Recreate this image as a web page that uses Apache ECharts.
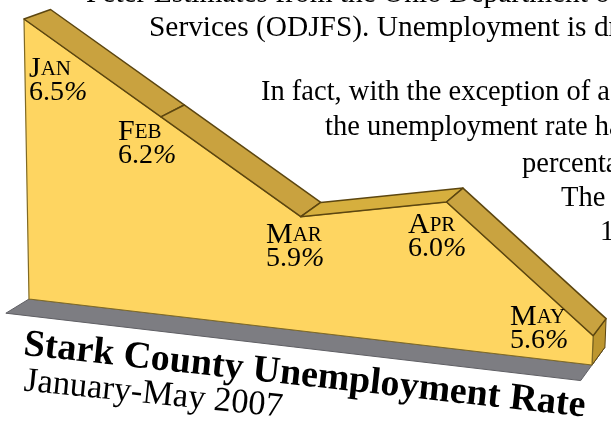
<!DOCTYPE html>
<html lang="en">
<head>
    <meta charset="UTF-8">
    <title>Stark County Unemployment Rate</title>
    <style>
        html, body { margin: 0; padding: 0; background: #fff; }
        #main { width: 611px; height: 421px; }
    </style>
    <script src="https://cdn.jsdelivr.net/npm/echarts@6/dist/echarts.min.js"></script>
</head>
<body>
<div id="main"></div>
<script type="text/javascript">
    // values
    var months = ['Jan', 'Feb', 'Mar', 'Apr', 'May'];
    var rates = [6.5, 6.2, 5.9, 6.0, 5.6];
    var titleText = 'Stark County Unemployment Rate';
    var subtitleText = 'January-May 2007';
    var storyLines = [
        'Peter Estimates from the Ohio Department of',
        'Services (ODJFS). Unemployment is dropping',
        'In fact, with the exception of a',
        'the unemployment rate has',
        'percentage',
        'The',
        '1'
    ];

    var serif = '"Liberation Serif", "Times New Roman", serif';

    // the flat chart plane is tilted: unit square -> picture quad
    var quad = { bl: [29, 299], br: [592, 365], tr: [604, 64], tl: [24, 19] };
    var vanish = [1131, -377];   // where the depth edges meet
    var depthBack = 0.024;
    var depthFloor = -0.021;

    var h = (function () {
        var x0 = quad.bl[0], y0 = quad.bl[1], x1 = quad.br[0], y1 = quad.br[1];
        var x2 = quad.tr[0], y2 = quad.tr[1], x3 = quad.tl[0], y3 = quad.tl[1];
        var dx1 = x1 - x2, dx2 = x3 - x2, sx = x0 - x1 + x2 - x3;
        var dy1 = y1 - y2, dy2 = y3 - y2, sy = y0 - y1 + y2 - y3;
        var den = dx1 * dy2 - dx2 * dy1;
        var g = (sx * dy2 - dx2 * sy) / den;
        var k = (dx1 * sy - sx * dy1) / den;
        return {
            a: x1 - x0 + g * x1, b: x3 - x0 + k * x3, c: x0,
            d: y1 - y0 + g * y1, e: y3 - y0 + k * y3, f: y0,
            g: g, k: k
        };
    })();

    function tilt(params, api, month, value) {
        var p = api.coord([month, value]);
        var cs = params.coordSys;
        var u = (p[0] - cs.x) / cs.width;
        var v = (cs.y + cs.height - p[1]) / cs.height;
        var w = h.g * u + h.k * v + 1;
        return [(h.a * u + h.b * v + h.c) / w, (h.d * u + h.e * v + h.f) / w];
    }

    function extrude(p, amount) {
        return [p[0] + (vanish[0] - p[0]) * amount, p[1] + (vanish[1] - p[1]) * amount];
    }

    var yMin = 5.5;
    var last = months.length - 1;

    function poly(points, fill, stroke, lineWidth) {
        return {
            type: 'polygon',
            shape: { points: points },
            style: { fill: fill, stroke: stroke, lineWidth: lineWidth || 0, lineJoin: 'round' }
        };
    }

    function renderFloor(params, api) {
        var a = tilt(params, api, 0, yMin);
        var b = tilt(params, api, last, yMin);
        return poly([a, b, extrude(b, depthBack), extrude(b, depthFloor), extrude(a, depthFloor)], '#7d7d82', '#5f5f64', 1);
    }

    function renderFace(params, api) {
        var pts = [tilt(params, api, 0, yMin)];
        for (var i = 0; i < rates.length; i++) {
            pts.push(tilt(params, api, i, rates[i]));
        }
        pts.push(tilt(params, api, last, yMin));
        return poly(pts, '#fed561', '#806a24', 1.2);
    }

    var ribbonColors = ['#c9a23f', '#c9a23f', '#d6af3e', '#c9a340'];

    function renderRibbon(params, api) {
        var i = api.value(0);
        var a = tilt(params, api, i, rates[i]);
        var b = tilt(params, api, i + 1, rates[i + 1]);
        return poly([a, b, extrude(b, depthBack), extrude(a, depthBack)], ribbonColors[i], '#5c4610', 1.5);
    }

    function renderEnd(params, api) {
        var a = tilt(params, api, last, rates[last]);
        var b = tilt(params, api, last, yMin);
        return poly([a, extrude(a, depthBack), extrude(b, depthBack), b], '#bd962f', '#5c4610', 1);
    }

    function singleItem() { return [[0]]; }

    function monthLabel(i, x, y) {
        var name = months[i];
        return {
            type: 'text',
            x: x,
            y: y,
            z: 10,
            style: {
                text: '{cap|' + name.charAt(0).toUpperCase() + '}{small|' + name.slice(1).toUpperCase() + '}\n{num|' + rates[i].toFixed(1) + '}{pct|%}',
                fill: '#000',
                rich: {
                    cap: { fontFamily: serif, fontSize: 30, lineHeight: 23, fill: '#000' },
                    small: { fontFamily: serif, fontSize: 21, lineHeight: 23, fill: '#000' },
                    num: { fontFamily: serif, fontSize: 28, lineHeight: 23, fill: '#000' },
                    pct: { fontFamily: serif, fontSize: 28, fontStyle: 'italic', lineHeight: 23, fill: '#000' }
                }
            }
        };
    }

    function storyLine(i, x, y, size) {
        return {
            type: 'text',
            x: x,
            y: y,
            z: 0,
            style: { text: storyLines[i], fontFamily: serif, fontSize: size || 28.5, fill: '#000' }
        };
    }

    var myChart = echarts.init(document.getElementById('main'), null, { renderer: 'canvas' });

    var option = {
        animation: false,
        backgroundColor: '#fff',
        grid: { left: 30, right: 30, top: 30, bottom: 60, show: false },
        xAxis: { type: 'category', boundaryGap: false, data: months, show: false },
        yAxis: { type: 'value', min: yMin, max: 6.5, show: false },
        series: [
            { type: 'custom', coordinateSystem: 'cartesian2d', renderItem: renderFloor, data: singleItem(), silent: true, z: 2 },
            { type: 'custom', coordinateSystem: 'cartesian2d', renderItem: renderEnd, data: singleItem(), silent: true, z: 3 },
            { type: 'custom', coordinateSystem: 'cartesian2d', renderItem: renderFace, data: singleItem(), silent: true, z: 4 },
            { type: 'custom', coordinateSystem: 'cartesian2d', renderItem: renderRibbon, data: [[0], [1], [2], [3]], encode: { x: 0 }, silent: true, z: 5 }
        ],
        graphic: [
            storyLine(0, 86, -20, 29.4),
            storyLine(1, 149, 14, 29.4),
            storyLine(2, 261, 78),
            storyLine(3, 325, 113),
            storyLine(4, 522, 150),
            storyLine(5, 561, 184),
            storyLine(6, 600, 218),
            monthLabel(0, 29, 58),
            monthLabel(1, 118, 121),
            monthLabel(2, 266, 224),
            monthLabel(3, 408, 214),
            monthLabel(4, 510, 306),
            {
                type: 'text', x: 26, y: 326, rotation: -6.3 * Math.PI / 180, z: 10,
                style: { text: titleText, fontFamily: serif, fontWeight: 'bold', fontSize: 38, fill: '#000' }
            },
            {
                type: 'text', x: 26, y: 364, rotation: -5.8 * Math.PI / 180, z: 9,
                style: { text: subtitleText, fontFamily: serif, fontSize: 34.5, fill: '#000' }
            }
        ]
    };
    myChart.setOption(option);
</script>
</body>
</html>
